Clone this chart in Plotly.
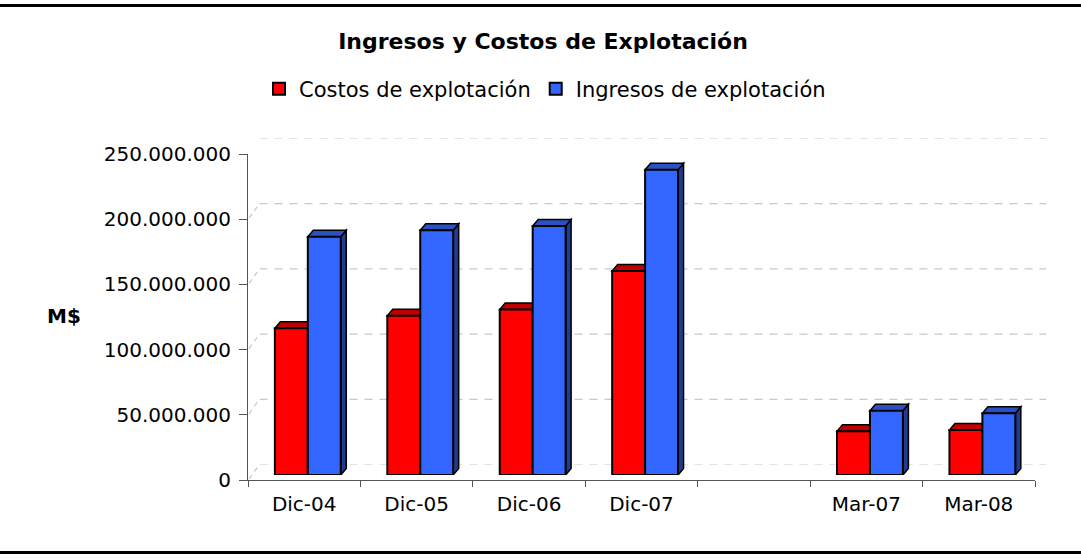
import plotly.graph_objects as go

# ---- data ----
categorias = ["Dic-04", "Dic-05", "Dic-06", "Dic-07", "", "Mar-07", "Mar-08"]
costos = [112.5e6, 122.2e6, 127.0e6, 156.4e6, None, 33.5e6, 34.5e6]
ingresos = [182.7e6, 187.6e6, 191.0e6, 234.0e6, None, 49.3e6, 47.3e6]
y_ticks = [0, 50e6, 100e6, 150e6, 200e6, 250e6]
y_tick_labels = ["0", "50.000.000", "100.000.000", "150.000.000",
                 "200.000.000", "250.000.000"]
serie_costos = "Costos de explotación"
serie_ingresos = "Ingresos de explotación"
titulo = "Ingresos y Costos de Explotación"
titulo_y = "M$"

# ---- page geometry (pixels) ----
W, H = 1081, 560
PLOT_L, PLOT_R, PLOT_T, PLOT_B = 248, 1035, 154, 480
Y_MAX = 250e6
N = len(categorias)
BAR_SHIFT = (3.6, 5.0)     # bars sit a little behind the front plane
WALL_SHIFT = (11.5, 15.5)  # back wall carrying the gridlines
DEPTH = (5.5, 6.5)         # bar depth for the 3D faces
BARGAP = 0.414

FONT = "DejaVu Sans"
RED, RED_TOP = "#FF0000", "#C00000"
BLUE, BLUE_TOP, BLUE_SIDE = "#3366FF", "#2A50C4", "#1F3C8E"
EDGE = "#000000"
AXIS_COL = "#555555"
GRID_COL = "#C8C8C8"


def xdom(dx):
    return [(PLOT_L + dx) / W, (PLOT_R + dx) / W]


def ydom(dy):
    return [(H - PLOT_B + dy) / H, (H - PLOT_T + dy) / H]


px_per_cat = (PLOT_R - PLOT_L) / N
px_per_val = (PLOT_B - PLOT_T) / Y_MAX
ddx = DEPTH[0] / px_per_cat
ddy = DEPTH[1] / px_per_val
bar_w = (1 - BARGAP) / 2

fig = go.Figure()

# placeholder traces so the wall and front subplots are drawn
fig.add_trace(go.Scatter(x=[None], y=[None], xaxis="x", yaxis="y",
                         showlegend=False, hoverinfo="skip"))
fig.add_trace(go.Scatter(x=[None], y=[None], xaxis="x3", yaxis="y3",
                         showlegend=False, hoverinfo="skip"))

pos = list(range(N))
fig.add_trace(go.Bar(x=pos, y=costos, name=serie_costos, xaxis="x2", yaxis="y2",
                     marker=dict(color=RED, line=dict(color=EDGE, width=2))))
fig.add_trace(go.Bar(x=pos, y=ingresos, name=serie_ingresos, xaxis="x2", yaxis="y2",
                     marker=dict(color=BLUE, line=dict(color=EDGE, width=2))))

shapes = []

# dashed gridlines on the back wall
for v in y_ticks:
    shapes.append(dict(type="line", xref="x", yref="y", layer="below",
                       x0=-0.5, x1=N - 0.5, y0=v, y1=v,
                       line=dict(color=GRID_COL, width=1.2, dash="8px,7px")))

# side-wall gridlines joining the front ticks to the back wall
for v in y_ticks:
    shapes.append(dict(type="line", xref="x3", yref="y3", layer="below",
                       xsizemode="pixel", ysizemode="pixel",
                       xanchor=-0.5, yanchor=v,
                       x0=1, x1=WALL_SHIFT[0], y0=1, y1=WALL_SHIFT[1],
                       line=dict(color=GRID_COL, width=1.2, dash="5px,4px")))

# top and side faces of each column
for vals, off, top_col, side_col in [(costos, -bar_w, RED_TOP, RED_TOP),
                                     (ingresos, 0.0, BLUE_TOP, BLUE_SIDE)]:
    for i, v in enumerate(vals):
        if v is None:
            continue
        L = i + off
        R = L + bar_w
        side = (f"M{R},0 L{R},{v} L{R + ddx},{v + ddy} L{R + ddx},{ddy} Z")
        top = (f"M{L},{v} L{R},{v} L{R + ddx},{v + ddy} L{L + ddx},{v + ddy} Z")
        for p, c in [(side, side_col), (top, top_col)]:
            shapes.append(dict(type="path", path=p, xref="x2", yref="y2",
                               fillcolor=c, layer="below",
                               line=dict(color=EDGE, width=1.5)))

# horizontal rules framing the chart
for yy in [1 - 5.5 / H, 1 - 552.5 / H]:
    shapes.append(dict(type="line", xref="paper", yref="paper",
                       x0=0, x1=1, y0=yy, y1=yy,
                       line=dict(color="#000000", width=3)))

hidden = dict(showgrid=False, showline=False, zeroline=False,
              showticklabels=False, ticks="", automargin=False)

fig.update_layout(
    template="none",
    width=W, height=H, autosize=False,
    margin=dict(l=0, r=0, t=0, b=0, pad=0, autoexpand=False),
    paper_bgcolor="white",
    plot_bgcolor="rgba(0,0,0,0)",
    font=dict(family=FONT, color="black", size=20),
    barmode="group", bargap=BARGAP, bargroupgap=0,
    showlegend=True,
    legend=dict(orientation="h", x=545 / W, xanchor="center",
                y=1 - 89 / H, yanchor="middle", borderwidth=0,
                bgcolor="rgba(0,0,0,0)", font=dict(family=FONT, size=21)),
    title=dict(text=f"<b>{titulo}</b>", x=543 / W, xanchor="center",
               y=1 - 41 / H, yanchor="middle", xref="container", yref="container",
               font=dict(family=FONT, size=22, color="black")),
    # back wall
    xaxis=dict(domain=xdom(WALL_SHIFT[0]), range=[-0.5, N - 0.5], anchor="y", **hidden),
    yaxis=dict(domain=ydom(WALL_SHIFT[1]), range=[0, Y_MAX], anchor="x", **hidden),
    # plane holding the columns
    xaxis2=dict(domain=xdom(BAR_SHIFT[0]), range=[-0.5, N - 0.5], anchor="y2", **hidden),
    yaxis2=dict(domain=ydom(BAR_SHIFT[1]), range=[0, Y_MAX], anchor="x2", **hidden),
    # front axes with labels
    xaxis3=dict(domain=xdom(0), range=[-0.5, N - 0.5], anchor="y3", automargin=False,
                tickmode="array", tickvals=pos, ticktext=categorias, ticks="",
                tickfont=dict(family=FONT, size=20, color="black"),
                ticklabelstandoff=6,
                minor=dict(tickmode="array", tickvals=[i - 0.5 for i in range(N + 1)],
                           ticks="outside", ticklen=6, tickcolor=AXIS_COL, tickwidth=1),
                showline=True, linecolor=AXIS_COL, linewidth=1,
                showgrid=False, zeroline=False),
    yaxis3=dict(domain=ydom(0), range=[0, Y_MAX], anchor="x3", automargin=False,
                tickmode="array", tickvals=y_ticks, ticktext=y_tick_labels,
                ticks="outside", ticklen=8, tickcolor=AXIS_COL, tickwidth=1,
                ticklabelstandoff=4,
                tickfont=dict(family=FONT, size=20, color="black"),
                showline=True, linecolor=AXIS_COL, linewidth=1,
                showgrid=False, zeroline=False),
    shapes=shapes,
    annotations=[dict(text=f"<b>{titulo_y}</b>", x=64 / W, y=1 - 316 / H,
                      xref="paper", yref="paper", showarrow=False,
                      xanchor="center", yanchor="middle",
                      font=dict(family=FONT, size=20, color="black"))],
)

fig.write_html("out.html")
